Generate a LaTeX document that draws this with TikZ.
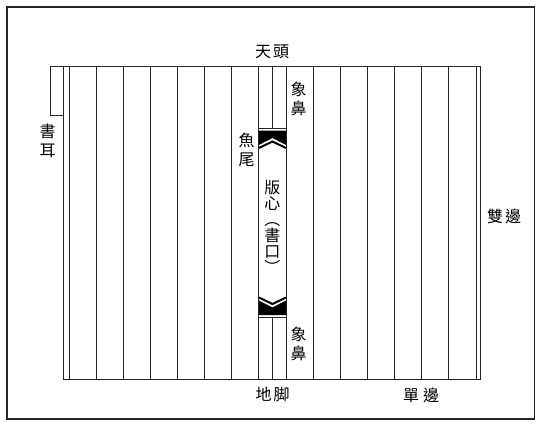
\documentclass[tikz,border=0pt]{standalone}
\usepackage{fontspec}
\newfontfamily\cjk{Noto Sans CJK TC}
\usetikzlibrary{calc}

\tikzset{
  lbl/.style={font=\cjk\fontsize{16}{19}\selectfont, inner sep=0pt, align=center},
  lblcol/.style={font=\cjk\fontsize{16}{16}\selectfont, inner sep=0pt, align=center},
  rule/.style={line width=0.8pt, black!85},
}

\begin{document}
\begin{tikzpicture}[x=1pt,y=-1pt]
\useasboundingbox (0,0) rectangle (541,428);
% outer frame
\draw[line width=1.2pt, black!85] (7,7) rectangle (534.5,419);
%%%%%%%%%%%%%%%
% page frame with ear (outer double border)
\draw[rule] (50,115) -- (50,66.5) -- (480.5,66.5) -- (480.5,379) -- (63.5,379) -- (63.5,66.5);
\draw[rule] (50,115) -- (63.5,115);
\draw[rule] (69,66.5) -- (69,379);
\draw[rule] (475.9,66.5) -- (475.9,379);
% column lines
\foreach \k in {1,...,14}
  \draw[rule] ({69+\k*27.127},66.5) -- ({69+\k*27.127},379);
%%%%%%%%%%%%%%%
% centre column: elephant trunks and fish tails
\coordinate (L) at (258.9,0);
\coordinate (R) at (286.0,0);
\coordinate (C) at (272.45,0);
\draw[rule] (C |- 0,66.5) -- (C |- 0,128);
\draw[rule] (L |- 0,128) -- (R |- 0,128);
\fill[black] (L |- 0,130.5) -- (R |- 0,130.5) -- (R |- 0,145) -- (C |- 0,138) -- (L |- 0,145) -- cycle;
\draw[line width=2pt] (L |- 0,148) -- (C |- 0,141.5) -- (R |- 0,148);
%
\draw[rule] (C |- 0,317.5) -- (C |- 0,379);
\draw[rule] (L |- 0,317.5) -- (R |- 0,317.5);
\fill[black] (L |- 0,315) -- (R |- 0,315) -- (R |- 0,300.5) -- (C |- 0,307.5) -- (L |- 0,300.5) -- cycle;
\draw[line width=2pt] (L |- 0,297.5) -- (C |- 0,304) -- (R |- 0,297.5);
%%%%%%%%%%%%%%%
% labels
\node[lbl] (tiantou) at (272,51.5) {天\hspace{2pt}頭};
\node[lbl] (xiangbiup) at (298.5,98.5) {象\\鼻};
\node[lbl] (yuwei) at (246.5,150) {魚\\尾};
\node[lblcol] (banxin) at (272.4,227) {版\\心\\︵\\書\\口\\︶};
\node[lbl] (xiangbidown) at (298.5,344) {象\\鼻};
\node[lbl] (dijiao) at (272.5,394) {地\hspace{2pt}脚};
\node[lbl] (danbian) at (421,395) {單\hspace{4pt}邊};
\node[lbl] (shuangbian) at (504,216) {雙\hspace{2pt}邊};
\node[lbl] (shuer) at (47.6,141) {書\\耳};
\end{tikzpicture}
\end{document}
